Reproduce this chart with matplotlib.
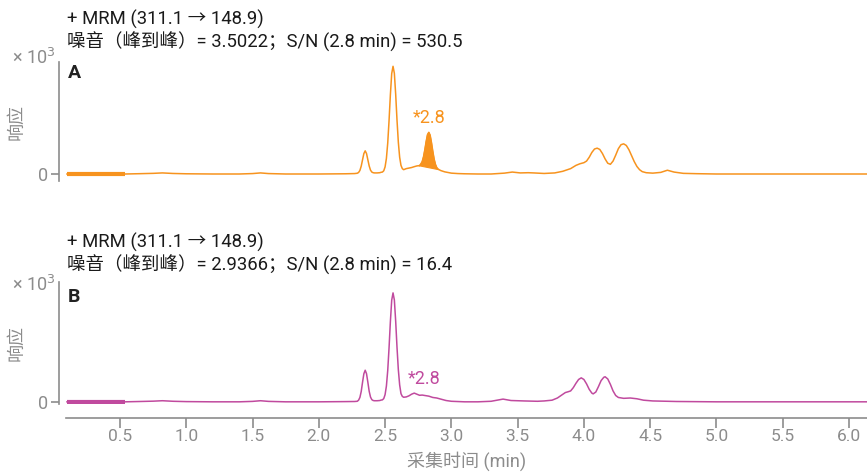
import matplotlib.pyplot as plt
from matplotlib.patches import Polygon

plt.rcParams['font.family'] = ['Roboto', 'Noto Sans CJK SC', 'DejaVu Sans']

# retention time (min) and response (x10^3) for trace A
time_a = [0.10, 0.30, 0.54, 0.65, 0.75, 0.82, 0.90, 1.00, 1.20, 1.40, 1.50, 1.56, 1.62, 1.75, 2.00, 2.20, 2.27,
          2.29, 2.30, 2.31, 2.32, 2.33, 2.34, 2.35, 2.36, 2.37, 2.38, 2.39, 2.40, 2.41, 2.42, 2.44, 2.46, 2.47,
          2.48, 2.49, 2.50, 2.51, 2.52, 2.53, 2.54, 2.55, 2.56, 2.57, 2.58, 2.59, 2.60, 2.61, 2.62, 2.63, 2.64,
          2.65, 2.66, 2.68, 2.70, 2.72, 2.74, 2.76, 2.77, 2.78, 2.79, 2.80, 2.81, 2.82, 2.83, 2.84, 2.85, 2.86,
          2.87, 2.88, 2.89, 2.90, 2.92, 2.95, 3.00, 3.05, 3.10, 3.20, 3.30, 3.40, 3.46, 3.52, 3.58, 3.62, 3.70,
          3.78, 3.84, 3.90, 3.94, 3.97, 4.00, 4.02, 4.04, 4.06, 4.08, 4.10, 4.12, 4.14, 4.16, 4.18, 4.20, 4.22,
          4.24, 4.26, 4.28, 4.30, 4.32, 4.34, 4.36, 4.38, 4.40, 4.42, 4.44, 4.47, 4.52, 4.58, 4.63, 4.68, 4.75,
          4.85, 5.00, 5.50, 6.14]
resp_a = [0.0, 0.0, 0.0, 0.003, 0.006, 0.01, 0.005, 0.002, 0.0, 0.0, 0.004, 0.01, 0.004, 0.0, 0.0, 0.002, 0.004,
          0.007, 0.014, 0.033, 0.073, 0.132, 0.19, 0.215, 0.19, 0.132, 0.075, 0.036, 0.018, 0.012, 0.01, 0.01, 0.012,
          0.016, 0.018, 0.03, 0.066, 0.145, 0.288, 0.497, 0.736, 0.933, 1.0, 0.935, 0.74, 0.50, 0.295, 0.155, 0.08,
          0.05, 0.04, 0.045, 0.05, 0.055, 0.06, 0.068, 0.075, 0.078, 0.093, 0.115, 0.16, 0.226, 0.302, 0.365, 0.387,
          0.36, 0.292, 0.211, 0.139, 0.089, 0.059, 0.045, 0.032, 0.02, 0.008, 0.004, 0.002, 0.0, 0.0, 0.008, 0.018,
          0.01, 0.012, 0.01, 0.005, 0.01, 0.025, 0.05, 0.08, 0.095, 0.105, 0.12, 0.155, 0.20, 0.232, 0.24, 0.228,
          0.19, 0.14, 0.10, 0.09, 0.12, 0.175, 0.235, 0.272, 0.28, 0.265, 0.225, 0.17, 0.115, 0.07, 0.04, 0.022,
          0.012, 0.008, 0.015, 0.035, 0.018, 0.006, 0.003, 0.0, 0.0, 0.0]

# integration baseline under the 2.8 min peak in trace A
integ_start = (2.755, 0.077)
integ_end = (2.905, 0.040)

# retention time (min) and response (x10^3) for trace B
time_b = [0.10, 0.30, 0.54, 0.65, 0.75, 0.82, 0.90, 1.00, 1.20, 1.40, 1.50, 1.56, 1.62, 1.75, 2.00, 2.20, 2.27,
          2.29, 2.30, 2.31, 2.32, 2.33, 2.34, 2.35, 2.36, 2.37, 2.38, 2.39, 2.40, 2.41, 2.42, 2.44, 2.46, 2.47,
          2.48, 2.49, 2.50, 2.51, 2.52, 2.53, 2.54, 2.55, 2.56, 2.57, 2.58, 2.59, 2.60, 2.61, 2.62, 2.63, 2.64,
          2.66, 2.68, 2.70, 2.72, 2.74, 2.76, 2.78, 2.80, 2.83, 2.86, 2.89, 2.92, 2.96, 3.00, 3.10, 3.20, 3.30,
          3.39, 3.45, 3.55, 3.65, 3.70, 3.76, 3.80, 3.83, 3.86, 3.88, 3.90, 3.92, 3.94, 3.96, 3.98, 4.00, 4.02,
          4.04, 4.06, 4.07, 4.09, 4.11, 4.13, 4.15, 4.16, 4.18, 4.20, 4.22, 4.24, 4.26, 4.30, 4.35, 4.40, 4.45,
          4.52, 4.70, 5.00, 5.50, 6.14]
resp_b = [0.0, 0.0, 0.0, 0.003, 0.006, 0.01, 0.005, 0.002, 0.0, 0.0, 0.004, 0.01, 0.004, 0.0, 0.0, 0.002, 0.003,
          0.005, 0.015, 0.04, 0.095, 0.18, 0.258, 0.29, 0.258, 0.18, 0.097, 0.044, 0.02, 0.012, 0.01, 0.01, 0.012,
          0.016, 0.018, 0.03, 0.066, 0.145, 0.288, 0.497, 0.736, 0.933, 1.0, 0.935, 0.74, 0.50, 0.295, 0.155, 0.075,
          0.05, 0.042, 0.045, 0.055, 0.07, 0.08, 0.07, 0.06, 0.062, 0.058, 0.052, 0.04, 0.035, 0.025, 0.012, 0.005,
          0.0, 0.0, 0.005, 0.025, 0.012, 0.008, 0.005, 0.008, 0.015, 0.035, 0.06, 0.085, 0.092, 0.10, 0.13, 0.17,
          0.205, 0.22, 0.205, 0.165, 0.115, 0.08, 0.073, 0.09, 0.14, 0.195, 0.225, 0.23, 0.21, 0.16, 0.10, 0.058,
          0.04, 0.032, 0.035, 0.028, 0.015, 0.008, 0.003, 0.0, 0.0, 0.0]

divert_end = 0.54  # start of run, drawn heavier
mrm = '+ MRM (311.1 \u2192 148.9)'
noise_lines = ['噪音（峰到峰）= 3.5022；S/N (2.8 min) = 530.5',
               '噪音（峰到峰）= 2.9366；S/N (2.8 min) = 16.4']
labels = ['A', 'B']
colors = ['#f7931e', '#c04a9e']
grey = '#8c8c8c'

fig = plt.figure(figsize=(8.67, 4.72), dpi=100)
ax_a = fig.add_axes([66 / 867, 1 - 181 / 472, 801 / 867, 119 / 472])
ax_b = fig.add_axes([66 / 867, 1 - 404 / 472, 801 / 867, 122 / 472])

# header offsets above each panel, in pixels: (first line, second line, x10^3, panel letter)
offsets = [(43, 20, 4, -11), (40, 17, -3, -15)]

for k, (ax, t, r, ylim) in enumerate([(ax_a, time_a, resp_a, (-0.065, 1.04)),
                                      (ax_b, time_b, resp_b, (-0.02, 1.10))]):
    c = colors[k]
    ax.plot(t, r, color=c, lw=1.1)
    head = [i for i, x in enumerate(t) if x <= divert_end]
    ax.plot([t[i] for i in head], [r[i] for i in head], color=c, lw=3, solid_capstyle='butt')
    ax.set_xlim(0.0926, 6.136)
    ax.set_ylim(*ylim)
    for s in ['top', 'right']:
        ax.spines[s].set_visible(False)
    ax.spines['left'].set_position(('outward', 5))
    ax.spines['left'].set_color(grey)
    ax.spines['left'].set_linewidth(1.2)
    ax.set_yticks([0])
    ax.tick_params(axis='y', colors=grey, labelsize=13, length=6, width=1.2, pad=2)
    ax.set_ylabel('响应', color=grey, fontsize=13, labelpad=9)

    o1, o2, o3, o4 = offsets[k]
    ax.annotate(mrm, (0, 1), xycoords='axes fraction', xytext=(1, o1 * 0.72), textcoords='offset points',
                fontsize=13.3, color='#1a1a1a', va='center', ha='left')
    ax.annotate(noise_lines[k], (0, 1), xycoords='axes fraction', xytext=(1, o2 * 0.72),
                textcoords='offset points', fontsize=13.3, color='#1a1a1a', va='center', ha='left')
    ax.annotate('× 10$^3$', (0, 1), xycoords='axes fraction', xytext=(-54 * 0.72, o3 * 0.72),
                textcoords='offset points', fontsize=13, color=grey, va='center', ha='left')
    ax.annotate(labels[k], (0, 1), xycoords='axes fraction', xytext=(2 * 0.72, o4 * 0.72),
                textcoords='offset points', fontsize=14, fontweight='bold', color='#222222',
                va='center', ha='left')

# shaded area of the 2.8 min peak in trace A
i0 = next(i for i, x in enumerate(time_a) if x > integ_start[0])
i1 = next(i for i, x in enumerate(time_a) if x > integ_end[0])
poly = [integ_start] + [(time_a[i], resp_a[i]) for i in range(i0, i1)] + [integ_end]
ax_a.add_patch(Polygon(poly, closed=True, facecolor=colors[0], edgecolor=colors[0], lw=0.8))
ax_a.text(2.83, 0.44, '*2.8', color=colors[0], fontsize=13, ha='center', va='bottom')
ax_b.text(2.67, 0.13, '*2.8', color=colors[1], fontsize=13, ha='left', va='bottom')

ax_a.spines['bottom'].set_visible(False)
ax_a.set_xticks([])
ax_b.spines['bottom'].set_position(('outward', 10))
ax_b.spines['bottom'].set_color(grey)
ax_b.spines['bottom'].set_linewidth(1.2)
ax_b.set_xticks([0.5, 1.0, 1.5, 2.0, 2.5, 3.0, 3.5, 4.0, 4.5, 5.0, 5.5, 6.0])
ax_b.set_xticklabels(['0.5', '1.0', '1.5', '2.0', '2.5', '3.0', '3.5', '4.0', '4.5', '5.0', '5.5', '6.0'])
ax_b.tick_params(axis='x', colors=grey, labelsize=12.5, length=7, width=1.2, pad=1)
ax_b.set_xlabel('采集时间 (min)', color=grey, fontsize=13, labelpad=5)

fig.savefig('out.png', dpi=100)
